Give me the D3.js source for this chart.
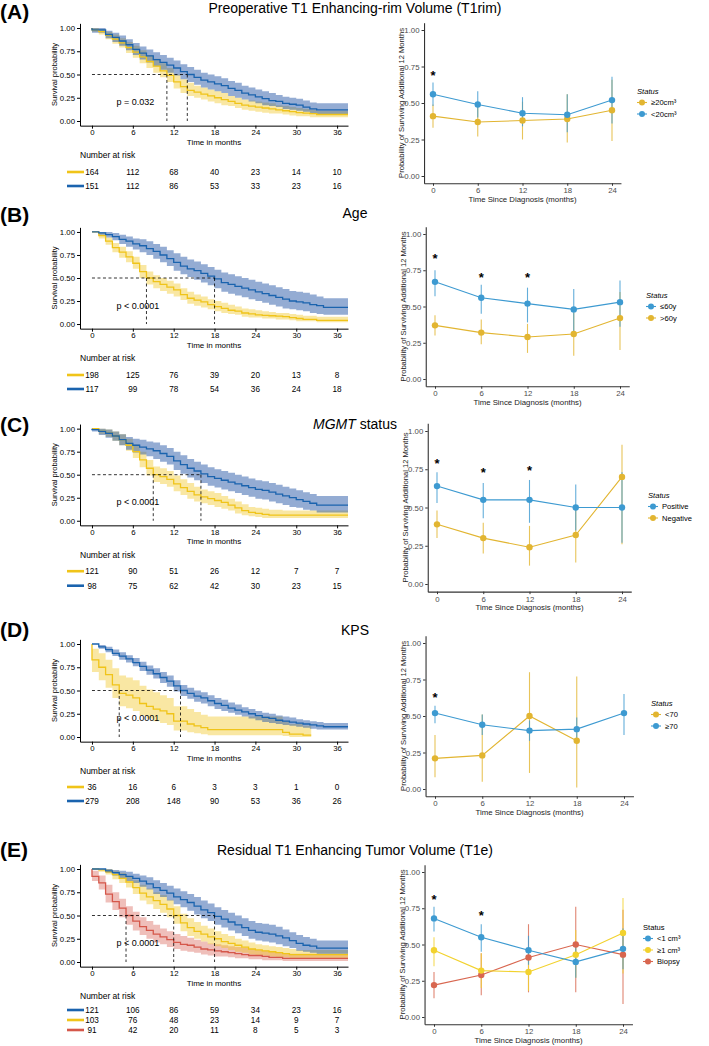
<!DOCTYPE html>
<html>
<head>
<meta charset="utf-8">
<script src="https://cdn.jsdelivr.net/npm/d3@7"></script>
<style>
  body { margin: 0; background: #fff; }
  svg { font-family: "Liberation Sans", Arial, sans-serif; }
</style>
</head>
<body>
<svg id="fig" width="709" height="1046"></svg>
<script>
// ---- shared axes ----
const kmTicks = [0, 6, 12, 18, 24, 30, 36];
const probTimes = [0, 6, 12, 18, 24];

// ---- (A) T1rim : KM, one value per month 0..37 ----
const rimHighS  = [0.98,0.96,0.92,0.88,0.84,0.79,0.74,0.69,0.64,0.59,0.54,0.49,0.42,0.37,0.33,0.31,0.29,0.27,0.25,0.23,0.21,0.19,0.17,0.16,0.15,0.14,0.13,0.12,0.11,0.10,0.09,0.085,0.08,0.07,0.07,0.07,0.07,0.07];
const rimHighLo = [0.96,0.93,0.88,0.83,0.79,0.73,0.68,0.62,0.57,0.52,0.47,0.42,0.35,0.30,0.27,0.25,0.23,0.21,0.19,0.17,0.16,0.14,0.12,0.11,0.10,0.09,0.08,0.08,0.07,0.06,0.05,0.05,0.04,0.04,0.04,0.04,0.04,0.04];
const rimHighHi = [1.00,0.99,0.96,0.93,0.89,0.85,0.81,0.76,0.71,0.67,0.62,0.57,0.50,0.45,0.41,0.38,0.36,0.34,0.32,0.30,0.27,0.25,0.23,0.22,0.21,0.20,0.19,0.17,0.16,0.15,0.14,0.13,0.12,0.11,0.11,0.11,0.11,0.11];
const rimLowS   = [0.98,0.98,0.93,0.90,0.86,0.82,0.77,0.73,0.70,0.66,0.63,0.60,0.57,0.53,0.50,0.47,0.44,0.42,0.40,0.38,0.35,0.33,0.30,0.28,0.26,0.24,0.22,0.21,0.19,0.18,0.17,0.15,0.13,0.12,0.12,0.12,0.12,0.12];
const rimLowLo  = [0.95,0.95,0.89,0.85,0.81,0.76,0.71,0.66,0.63,0.59,0.55,0.52,0.49,0.45,0.42,0.39,0.36,0.34,0.32,0.30,0.27,0.25,0.23,0.21,0.19,0.17,0.16,0.15,0.13,0.12,0.11,0.10,0.08,0.07,0.07,0.07,0.07,0.07];
const rimLowHi  = [1.00,1.00,0.97,0.95,0.92,0.88,0.84,0.80,0.77,0.74,0.71,0.68,0.65,0.61,0.58,0.55,0.52,0.50,0.48,0.46,0.43,0.41,0.38,0.36,0.34,0.32,0.30,0.28,0.26,0.25,0.24,0.22,0.20,0.19,0.19,0.19,0.19,0.19];
const rimMedians = [11, 14];
const rimHighRisk = [164, 112, 68, 40, 23, 14, 10];
const rimLowRisk  = [151, 112, 86, 53, 33, 23, 16];
// (A) conditional survival
const rimHighP   = [0.41, 0.37, 0.38, 0.39, 0.45];
const rimHighPLo = [0.33, 0.27, 0.25, 0.23, 0.24];
const rimHighPHi = [0.49, 0.48, 0.51, 0.56, 0.66];
const rimLowP    = [0.56, 0.49, 0.43, 0.42, 0.52];
const rimLowPLo  = [0.48, 0.40, 0.34, 0.30, 0.36];
const rimLowPHi  = [0.64, 0.58, 0.54, 0.56, 0.68];
const rimStars = [[0, 0.70]];

// ---- (B) Age ----
const ageOldS  = [1.00,0.96,0.90,0.83,0.78,0.73,0.66,0.57,0.50,0.46,0.43,0.40,0.37,0.32,0.28,0.26,0.24,0.21,0.19,0.17,0.15,0.14,0.12,0.11,0.10,0.095,0.09,0.085,0.08,0.07,0.06,0.05,0.05,0.04,0.04,0.04,0.04,0.04];
const ageOldLo = [1.00,0.93,0.86,0.78,0.72,0.67,0.60,0.50,0.43,0.39,0.36,0.33,0.30,0.26,0.22,0.20,0.18,0.16,0.14,0.12,0.11,0.10,0.08,0.07,0.07,0.06,0.06,0.05,0.05,0.04,0.03,0.03,0.03,0.02,0.02,0.02,0.02,0.02];
const ageOldHi = [1.00,0.99,0.94,0.88,0.84,0.79,0.73,0.64,0.57,0.53,0.50,0.47,0.44,0.39,0.35,0.32,0.30,0.27,0.25,0.23,0.21,0.19,0.17,0.16,0.15,0.14,0.13,0.12,0.12,0.11,0.10,0.09,0.09,0.08,0.08,0.08,0.08,0.08];
const ageYoungS  = [1.00,0.99,0.97,0.95,0.92,0.90,0.87,0.85,0.82,0.79,0.75,0.71,0.67,0.63,0.60,0.58,0.55,0.52,0.49,0.45,0.43,0.41,0.39,0.37,0.35,0.33,0.31,0.29,0.27,0.25,0.24,0.23,0.21,0.20,0.18,0.18,0.18,0.18];
const ageYoungLo = [1.00,0.97,0.94,0.91,0.87,0.84,0.81,0.78,0.75,0.71,0.67,0.63,0.58,0.54,0.51,0.48,0.45,0.42,0.39,0.35,0.33,0.31,0.29,0.27,0.25,0.23,0.21,0.19,0.17,0.16,0.15,0.14,0.12,0.11,0.10,0.10,0.10,0.10];
const ageYoungHi = [1.00,1.00,1.00,0.99,0.97,0.95,0.93,0.92,0.90,0.87,0.84,0.80,0.77,0.73,0.70,0.68,0.65,0.62,0.59,0.56,0.54,0.52,0.50,0.48,0.46,0.44,0.42,0.40,0.38,0.36,0.35,0.34,0.32,0.30,0.28,0.28,0.28,0.28];
const ageMedians = [8, 18];
const ageOldRisk   = [198, 125, 76, 39, 20, 13, 8];
const ageYoungRisk = [117, 99, 78, 54, 36, 24, 18];
const ageYoungP   = [0.67, 0.56, 0.52, 0.48, 0.53];
const ageYoungPLo = [0.57, 0.45, 0.39, 0.33, 0.36];
const ageYoungPHi = [0.75, 0.65, 0.63, 0.62, 0.68];
const ageOldP   = [0.37, 0.32, 0.29, 0.31, 0.42];
const ageOldPLo = [0.30, 0.24, 0.18, 0.16, 0.20];
const ageOldPHi = [0.44, 0.41, 0.38, 0.46, 0.60];
const ageStars = [[0, 0.84], [6, 0.71], [12, 0.71]];

// ---- (C) MGMT ----
const mgmtNegS  = [1.00,0.97,0.95,0.92,0.88,0.82,0.75,0.66,0.57,0.50,0.48,0.45,0.40,0.36,0.32,0.28,0.26,0.24,0.22,0.20,0.17,0.14,0.11,0.09,0.08,0.07,0.06,0.06,0.06,0.06,0.06,0.06,0.06,0.06,0.06,0.06,0.06,0.06];
const mgmtNegLo = [1.00,0.94,0.91,0.87,0.82,0.76,0.68,0.58,0.49,0.42,0.40,0.37,0.32,0.28,0.24,0.21,0.19,0.17,0.15,0.13,0.11,0.08,0.06,0.05,0.04,0.03,0.03,0.03,0.03,0.03,0.03,0.03,0.03,0.03,0.03,0.03,0.03,0.03];
const mgmtNegHi = [1.00,1.00,0.99,0.97,0.94,0.89,0.83,0.75,0.66,0.59,0.57,0.54,0.49,0.45,0.41,0.37,0.34,0.32,0.30,0.27,0.24,0.21,0.18,0.15,0.14,0.13,0.12,0.12,0.11,0.11,0.11,0.11,0.11,0.11,0.11,0.11,0.11,0.11];
const mgmtPosS  = [0.99,0.97,0.95,0.92,0.88,0.84,0.82,0.80,0.78,0.76,0.73,0.70,0.65,0.61,0.57,0.54,0.51,0.48,0.46,0.44,0.42,0.40,0.38,0.36,0.34,0.33,0.31,0.29,0.27,0.25,0.23,0.21,0.19,0.17,0.17,0.17,0.17,0.17];
const mgmtPosLo = [0.97,0.93,0.90,0.87,0.82,0.77,0.74,0.72,0.70,0.67,0.64,0.61,0.55,0.51,0.47,0.44,0.41,0.38,0.36,0.34,0.32,0.30,0.28,0.26,0.24,0.23,0.21,0.19,0.17,0.15,0.14,0.12,0.11,0.09,0.09,0.09,0.09,0.09];
const mgmtPosHi = [1.00,1.00,0.99,0.97,0.94,0.91,0.89,0.88,0.86,0.85,0.82,0.79,0.75,0.71,0.67,0.64,0.61,0.58,0.56,0.54,0.52,0.50,0.48,0.46,0.44,0.43,0.41,0.39,0.37,0.35,0.33,0.31,0.29,0.27,0.27,0.27,0.27,0.27];
const mgmtMedians = [9, 16];
const mgmtNegRisk = [121, 90, 51, 26, 12, 7, 7];
const mgmtPosRisk = [98, 75, 62, 42, 30, 23, 15];
const mgmtPosP   = [0.64, 0.55, 0.55, 0.50, 0.50];
const mgmtPosPLo = [0.53, 0.43, 0.40, 0.35, 0.27];
const mgmtPosPHi = [0.73, 0.66, 0.68, 0.65, 0.73];
const mgmtNegP   = [0.39, 0.30, 0.24, 0.32, 0.70];
const mgmtNegPLo = [0.30, 0.20, 0.12, 0.14, 0.26];
const mgmtNegPHi = [0.48, 0.40, 0.38, 0.50, 0.91];
const mgmtStars = [[0, 0.80], [6, 0.74], [12, 0.75]];

// ---- (D) KPS ----
const kpsLowS  = [0.83,0.75,0.67,0.56,0.47,0.45,0.42,0.36,0.33,0.30,0.28,0.25,0.17,0.17,0.14,0.12,0.10,0.08,0.08,0.08,0.08,0.08,0.08,0.08,0.08,0.08,0.08,0.08,0.05,0.03,0.03,0.02,0.02];
const kpsLowLo = [0.70,0.61,0.53,0.42,0.33,0.31,0.28,0.23,0.20,0.17,0.15,0.13,0.07,0.07,0.05,0.04,0.03,0.02,0.02,0.02,0.02,0.02,0.02,0.02,0.02,0.02,0.02,0.02,0.01,0.00,0.00,0.00,0.00];
const kpsLowHi = [0.95,0.90,0.83,0.74,0.66,0.64,0.61,0.55,0.51,0.48,0.45,0.42,0.33,0.33,0.30,0.27,0.24,0.22,0.22,0.22,0.22,0.22,0.22,0.22,0.22,0.22,0.22,0.22,0.17,0.14,0.14,0.12,0.12];
const kpsHighS  = [1.00,0.97,0.94,0.90,0.87,0.84,0.80,0.76,0.72,0.68,0.64,0.60,0.55,0.50,0.47,0.44,0.42,0.39,0.36,0.34,0.31,0.29,0.27,0.25,0.23,0.21,0.20,0.18,0.17,0.16,0.15,0.14,0.13,0.12,0.11,0.11,0.11,0.11];
const kpsHighLo = [1.00,0.95,0.91,0.87,0.83,0.80,0.76,0.71,0.67,0.63,0.58,0.54,0.49,0.44,0.41,0.38,0.36,0.33,0.30,0.28,0.26,0.24,0.22,0.20,0.18,0.16,0.15,0.14,0.13,0.12,0.11,0.10,0.09,0.08,0.08,0.08,0.08,0.08];
const kpsHighHi = [1.00,0.99,0.97,0.94,0.91,0.88,0.85,0.81,0.77,0.74,0.70,0.66,0.61,0.56,0.53,0.50,0.48,0.45,0.42,0.40,0.37,0.35,0.32,0.30,0.28,0.26,0.25,0.23,0.22,0.21,0.19,0.18,0.17,0.16,0.15,0.15,0.15,0.15];
const kpsMedians = [4, 13];
const kpsLowRisk  = [36, 16, 6, 3, 3, 1, 0];
const kpsHighRisk = [279, 208, 148, 90, 53, 36, 26];
const kpsLowP   = [0.21, 0.23, 0.50, 0.33];
const kpsLowPLo = [0.08, 0.05, 0.11, 0.01];
const kpsLowPHi = [0.37, 0.51, 0.80, 0.77];
const kpsHighP   = [0.52, 0.44, 0.40, 0.41, 0.52];
const kpsHighPLo = [0.45, 0.37, 0.33, 0.33, 0.37];
const kpsHighPHi = [0.57, 0.51, 0.47, 0.49, 0.65];
const kpsStars = [[0, 0.64]];

// ---- (E) T1e ----
const t1eSmallS  = [1.00,1.00,0.98,0.96,0.94,0.92,0.90,0.87,0.84,0.80,0.77,0.74,0.70,0.67,0.64,0.60,0.56,0.53,0.49,0.46,0.43,0.40,0.37,0.34,0.32,0.31,0.30,0.28,0.26,0.23,0.20,0.18,0.17,0.15,0.15,0.15,0.15,0.15];
const t1eSmallLo = [1.00,1.00,0.96,0.93,0.90,0.87,0.85,0.81,0.78,0.73,0.70,0.66,0.62,0.59,0.55,0.51,0.47,0.44,0.40,0.37,0.34,0.31,0.28,0.25,0.23,0.22,0.21,0.19,0.17,0.15,0.12,0.11,0.10,0.09,0.09,0.09,0.09,0.09];
const t1eSmallHi = [1.00,1.00,1.00,0.99,0.98,0.97,0.95,0.93,0.91,0.88,0.85,0.82,0.79,0.76,0.73,0.70,0.66,0.63,0.59,0.56,0.53,0.50,0.47,0.44,0.42,0.41,0.40,0.38,0.35,0.32,0.29,0.27,0.25,0.23,0.23,0.23,0.23,0.23];
const t1eLargeS  = [1.00,0.99,0.97,0.94,0.90,0.86,0.80,0.74,0.70,0.66,0.62,0.57,0.50,0.42,0.37,0.33,0.30,0.27,0.25,0.22,0.20,0.18,0.16,0.14,0.13,0.12,0.11,0.10,0.09,0.08,0.08,0.08,0.08,0.08,0.08,0.08,0.08,0.08];
const t1eLargeLo = [1.00,0.97,0.94,0.89,0.85,0.80,0.73,0.66,0.62,0.57,0.53,0.48,0.41,0.33,0.28,0.25,0.22,0.19,0.17,0.15,0.13,0.11,0.10,0.08,0.07,0.07,0.06,0.05,0.05,0.04,0.04,0.04,0.04,0.04,0.04,0.04,0.04,0.04];
const t1eLargeHi = [1.00,1.00,1.00,0.98,0.96,0.92,0.88,0.83,0.79,0.75,0.72,0.67,0.60,0.52,0.47,0.43,0.39,0.36,0.33,0.30,0.28,0.25,0.23,0.21,0.19,0.18,0.17,0.16,0.15,0.14,0.13,0.13,0.13,0.13,0.13,0.13,0.13,0.13];
const biopsyS  = [0.92,0.85,0.73,0.65,0.58,0.50,0.44,0.38,0.34,0.30,0.27,0.24,0.21,0.19,0.18,0.16,0.14,0.13,0.12,0.11,0.10,0.09,0.08,0.07,0.07,0.06,0.05,0.05,0.04,0.04,0.04,0.04,0.04,0.04,0.04,0.04,0.04,0.04];
const biopsyLo = [0.87,0.78,0.64,0.56,0.48,0.40,0.34,0.29,0.25,0.21,0.19,0.16,0.14,0.12,0.11,0.10,0.08,0.07,0.06,0.06,0.05,0.04,0.04,0.03,0.03,0.02,0.02,0.02,0.01,0.01,0.01,0.01,0.01,0.01,0.01,0.01,0.01,0.01];
const biopsyHi = [0.98,0.93,0.83,0.75,0.68,0.60,0.54,0.48,0.44,0.40,0.36,0.33,0.30,0.28,0.26,0.24,0.22,0.20,0.19,0.18,0.17,0.16,0.15,0.14,0.13,0.12,0.11,0.10,0.09,0.09,0.09,0.09,0.09,0.09,0.09,0.09,0.09,0.09];
const t1eMedians = [5, 12, 18];
const t1eSmallRisk = [121, 106, 86, 59, 34, 23, 16];
const t1eLargeRisk = [103, 76, 48, 23, 14, 9, 7];
const biopsyRisk   = [91, 42, 20, 11, 8, 5, 3];
const t1eSmallP   = [0.68, 0.55, 0.46, 0.38, 0.47];
const t1eSmallPLo = [0.59, 0.45, 0.36, 0.27, 0.33];
const t1eSmallPHi = [0.76, 0.64, 0.56, 0.50, 0.61];
const t1eLargeP   = [0.46, 0.32, 0.31, 0.43, 0.58];
const t1eLargePLo = [0.35, 0.20, 0.18, 0.27, 0.30];
const t1eLargePHi = [0.55, 0.44, 0.45, 0.60, 0.82];
const biopsyP   = [0.22, 0.29, 0.41, 0.50, 0.43];
const biopsyPLo = [0.13, 0.15, 0.17, 0.17, 0.09];
const biopsyPHi = [0.31, 0.44, 0.64, 0.76, 0.74];
const t1eStars = [[0, 0.82], [6, 0.71]];

// colours
const km = { blue: '#1a63ae', yellow: '#f0c419', red: '#d5574a' };
const kmBand = { blue: ['#2a5aa8', 0.5], yellow: ['#f0c419', 0.4], red: ['#d5574a', 0.38] };
const pr = { blue: '#3d9ad1', yellow: '#e2b531', yellowE: '#f2d22e', red: '#d8664f' };

const svg = d3.select('#fig');
const FONT = '"Liberation Sans", Arial, sans-serif';

function kmSeries(s, lo, hi, end) {
  const pts = [{ t: 0, s: 1, lo: 1, hi: 1 }];
  s.forEach((v, i) => pts.push({ t: i, s: v, lo: lo[i], hi: hi[i] }));
  const last = pts[pts.length - 1];
  pts.push({ t: end, s: last.s, lo: last.lo, hi: last.hi });
  return pts;
}

function drawKM(p) {
  const x = d3.scaleLinear().domain([-1.76, 37.6]).range([80, 348]);
  const y = d3.scaleLinear().domain([-0.05, 1.05]).range([p.y0 + 4.65, p.y1 - 4.65]);
  const g = svg.append('g');

  const area = d3.area().curve(d3.curveStepAfter)
    .x(d => x(d.t)).y0(d => y(d.lo)).y1(d => y(d.hi));
  const line = d3.line().curve(d3.curveStepAfter)
    .x(d => x(d.t)).y(d => y(d.s));

  p.curves.forEach(c => {
    const band = kmBand[c.key];
    g.append('path').datum(kmSeries(c.s, c.lo, c.hi, c.end || 37.6))
      .attr('d', area).attr('fill', band[0]).attr('fill-opacity', band[1]);
  });
  p.curves.forEach(c => {
    g.append('path').datum(kmSeries(c.s, c.lo, c.hi, c.end || 37.6))
      .attr('d', line).attr('fill', 'none').attr('stroke', km[c.key]).attr('stroke-width', 1.3);
  });

  // median lines
  const mMax = d3.max(p.medians);
  g.append('line').attr('x1', x(0)).attr('x2', x(mMax)).attr('y1', y(0.5)).attr('y2', y(0.5))
    .attr('stroke', '#000').attr('stroke-width', 0.8).attr('stroke-dasharray', '3,2.5');
  p.medians.forEach(m => {
    g.append('line').attr('x1', x(m)).attr('x2', x(m)).attr('y1', y(0.5)).attr('y2', y(0))
      .attr('stroke', '#000').attr('stroke-width', 0.8).attr('stroke-dasharray', '3,2.5');
  });

  g.append('text').attr('x', x(3.6)).attr('y', y(0.2) + 3)
    .attr('font-size', 9).text(p.pval);

  // axes
  const ax = g.append('g').attr('transform', `translate(0,${y(-0.05)})`)
    .call(d3.axisBottom(x).tickValues(kmTicks).tickSize(3).tickSizeOuter(0).tickPadding(1));
  const ay = g.append('g').attr('transform', `translate(${x(-1.76)},0)`)
    .call(d3.axisLeft(y).tickValues([0, 0.25, 0.5, 0.75, 1]).tickFormat(d3.format('.2f')).tickSize(3).tickSizeOuter(0).tickPadding(2));
  [ax, ay].forEach(a => {
    a.select('.domain').attr('stroke', '#000').attr('stroke-width', 1);
    a.selectAll('.tick line').attr('stroke', '#000');
    a.selectAll('text').attr('font-size', 7.8).attr('fill', '#000').attr('font-family', FONT);
  });
  g.append('text').attr('x', 214).attr('y', y(-0.05) + 19).attr('text-anchor', 'middle')
    .attr('font-size', 8).text('Time in months');
  g.append('text').attr('transform', `translate(57,${(y(0) + y(1)) / 2}) rotate(-90)`)
    .attr('text-anchor', 'middle').attr('font-size', 7.5).text('Survival probability');

  // number at risk
  g.append('text').attr('x', 80).attr('y', p.y0 + 37).attr('font-size', 8.5).text('Number at risk');
  p.risk.forEach((r, i) => {
    const ry = p.y0 + p.riskRow0 + i * p.riskStep;
    g.append('line').attr('x1', 67).attr('x2', 84).attr('y1', ry).attr('y2', ry)
      .attr('stroke', km[r.key]).attr('stroke-width', 2.6);
    g.selectAll(null).data(r.n).join('text')
      .attr('x', (d, j) => x(kmTicks[j])).attr('y', ry + 3)
      .attr('text-anchor', 'middle').attr('font-size', 8.2).text(d => d);
  });
}

function drawProb(p) {
  const x = d3.scaleLinear().domain([0, 24]).range([p.x0, p.x24]);
  const y = d3.scaleLinear().domain([0, 1]).range([p.yb, p.yt]);
  const g = svg.append('g');
  const xe = d => x(d);

  p.series.forEach(s => {
    const times = probTimes.slice(0, s.est.length);
    g.selectAll(null).data(times).join('line')
      .attr('x1', xe).attr('x2', xe)
      .attr('y1', (d, i) => y(s.lo[i])).attr('y2', (d, i) => y(s.hi[i]))
      .attr('stroke', s.color).attr('stroke-width', 1.1).attr('stroke-opacity', 0.8);
  });
  p.series.forEach(s => {
    const times = probTimes.slice(0, s.est.length);
    g.append('path').datum(times.map((t, i) => [t, s.est[i]]))
      .attr('d', d3.line().x(d => x(d[0])).y(d => y(d[1])))
      .attr('fill', 'none').attr('stroke', s.color).attr('stroke-width', 1.1);
  });
  p.series.forEach(s => {
    const times = probTimes.slice(0, s.est.length);
    g.selectAll(null).data(times).join('circle')
      .attr('cx', xe).attr('cy', (d, i) => y(s.est[i])).attr('r', 3.2).attr('fill', s.color);
  });

  g.selectAll(null).data(p.stars).join('text')
    .attr('x', d => x(d[0])).attr('y', d => y(d[1]) + 6)
    .attr('text-anchor', 'middle').attr('font-size', 13).attr('font-weight', 'bold').text('*');

  const xAx = d3.scaleLinear().domain([-1.2, 25.2]).range([x(-1.2), x(25.2)]);
  const yAx = d3.scaleLinear().domain([-0.05, 1.05]).range([y(-0.05), y(1.05)]);
  const ax = g.append('g').attr('transform', `translate(0,${y(-0.05)})`)
    .call(d3.axisBottom(xAx).tickValues(probTimes).tickSize(2.5).tickSizeOuter(0).tickPadding(2));
  const ay = g.append('g').attr('transform', `translate(${x(-1.2)},0)`)
    .call(d3.axisLeft(yAx).tickValues([0, 0.25, 0.5, 0.75, 1]).tickFormat(d3.format('.2f')).tickSize(2.5).tickSizeOuter(0).tickPadding(2));
  [ax, ay].forEach(a => {
    a.select('.domain').attr('stroke', '#333').attr('stroke-width', 1.1);
    a.selectAll('.tick line').attr('stroke', '#333');
    a.selectAll('text').attr('font-size', 7.8).attr('fill', '#4d4d4d').attr('font-family', FONT);
  });
  g.append('text').attr('x', (x(-1.2) + x(25.2)) / 2).attr('y', y(-0.05) + 18.5)
    .attr('text-anchor', 'middle').attr('font-size', 7.8).attr('fill', '#222').text('Time Since Diagnosis (months)');
  g.append('text').attr('transform', `translate(${x(-1.2) - 20},${(y(-0.05) + y(1.05)) / 2}) rotate(-90)`)
    .attr('text-anchor', 'middle').attr('font-size', 7.6).attr('fill', '#222')
    .text('Probability of Surviving Additional 12 Months');

  // legend
  const lg = g.append('g');
  lg.append('text').attr('x', p.legX).attr('y', p.legY + 3).attr('font-size', 7.6)
    .attr('font-style', p.legItalic ? 'italic' : 'normal').text('Status');
  p.legend.forEach((L, i) => {
    const ly = p.legY + 11.5 * (i + 1);
    const kx = p.legX + 5;
    lg.append('line').attr('x1', kx - 5).attr('x2', kx + 5).attr('y1', ly).attr('y2', ly)
      .attr('stroke', L.color).attr('stroke-width', 1.1);
    lg.append('circle').attr('cx', kx).attr('cy', ly).attr('r', 3).attr('fill', L.color);
    lg.append('text').attr('x', kx + 9).attr('y', ly + 2.7).attr('font-size', 7.6).text(L.label);
  });
}

function panelHead(letter, labY, title, titY) {
  svg.append('text').attr('x', 0).attr('y', labY).attr('font-size', 21).attr('font-weight', 'bold').text(`(${letter})`);
  const t = svg.append('text').attr('x', 355).attr('y', titY).attr('text-anchor', 'middle').attr('font-size', 14);
  title.forEach(part => t.append('tspan').attr('font-style', part[1] ? 'italic' : 'normal').text(part[0]));
}

// ---------- (A) ----------
panelHead('A', 18.5, [['Preoperative T1 Enhancing-rim Volume (T1rim)', false]], 13);
drawKM({
  y1: 28, y0: 121, medians: rimMedians, pval: 'p = 0.032',
  curves: [
    { s: rimHighS, lo: rimHighLo, hi: rimHighHi, key: 'yellow' },
    { s: rimLowS, lo: rimLowLo, hi: rimLowHi, key: 'blue' }
  ],
  riskRow0: 51, riskStep: 14,
  risk: [{ n: rimHighRisk, key: 'yellow' }, { n: rimLowRisk, key: 'blue' }]
});
drawProb({
  x0: 433, x24: 612, yt: 30, yb: 176, stars: rimStars,
  series: [
    { est: rimHighP, lo: rimHighPLo, hi: rimHighPHi, color: pr.yellow },
    { est: rimLowP, lo: rimLowPLo, hi: rimLowPHi, color: pr.blue }
  ],
  legX: 637, legY: 91, legItalic: true,
  legend: [{ label: '≥20cm³', color: pr.yellow }, { label: '<20cm³', color: pr.blue }]
});

// ---------- (B) ----------
panelHead('B', 222, [['Age', false]], 218);
drawKM({
  y1: 232, y0: 324, medians: ageMedians, pval: 'p < 0.0001',
  curves: [
    { s: ageOldS, lo: ageOldLo, hi: ageOldHi, key: 'yellow' },
    { s: ageYoungS, lo: ageYoungLo, hi: ageYoungHi, key: 'blue' }
  ],
  riskRow0: 51, riskStep: 14,
  risk: [{ n: ageOldRisk, key: 'yellow' }, { n: ageYoungRisk, key: 'blue' }]
});
drawProb({
  x0: 435, x24: 620, yt: 234, yb: 379, stars: ageStars,
  series: [
    { est: ageOldP, lo: ageOldPLo, hi: ageOldPHi, color: pr.yellow },
    { est: ageYoungP, lo: ageYoungPLo, hi: ageYoungPHi, color: pr.blue }
  ],
  legX: 646, legY: 295, legItalic: true,
  legend: [{ label: '≤60y', color: pr.blue }, { label: '>60y', color: pr.yellow }]
});

// ---------- (C) ----------
panelHead('C', 432, [['MGMT', true], [' status', false]], 429);
drawKM({
  y1: 428.7, y0: 520.7, medians: mgmtMedians, pval: 'p < 0.0001',
  curves: [
    { s: mgmtNegS, lo: mgmtNegLo, hi: mgmtNegHi, key: 'yellow' },
    { s: mgmtPosS, lo: mgmtPosLo, hi: mgmtPosHi, key: 'blue' }
  ],
  riskRow0: 50.5, riskStep: 14.5,
  risk: [{ n: mgmtNegRisk, key: 'yellow' }, { n: mgmtPosRisk, key: 'blue' }]
});
drawProb({
  x0: 437, x24: 622, yt: 431, yb: 584, stars: mgmtStars,
  series: [
    { est: mgmtNegP, lo: mgmtNegPLo, hi: mgmtNegPHi, color: pr.yellow },
    { est: mgmtPosP, lo: mgmtPosPLo, hi: mgmtPosPHi, color: pr.blue }
  ],
  legX: 648, legY: 495, legItalic: true,
  legend: [{ label: 'Positive', color: pr.blue }, { label: 'Negative', color: pr.yellow }]
});

// ---------- (D) ----------
panelHead('D', 637, [['KPS', false]], 635);
drawKM({
  y1: 644, y0: 737, medians: kpsMedians, pval: 'p < 0.0001',
  curves: [
    { s: kpsLowS, lo: kpsLowLo, hi: kpsLowHi, key: 'yellow', end: 32.2 },
    { s: kpsHighS, lo: kpsHighLo, hi: kpsHighHi, key: 'blue' }
  ],
  riskRow0: 50, riskStep: 14,
  risk: [{ n: kpsLowRisk, key: 'yellow' }, { n: kpsHighRisk, key: 'blue' }]
});
drawProb({
  x0: 435, x24: 624, yt: 643, yb: 789, stars: kpsStars,
  series: [
    { est: kpsLowP, lo: kpsLowPLo, hi: kpsLowPHi, color: pr.yellow },
    { est: kpsHighP, lo: kpsHighPLo, hi: kpsHighPHi, color: pr.blue }
  ],
  legX: 651, legY: 703, legItalic: true,
  legend: [{ label: '<70', color: pr.yellow }, { label: '≥70', color: pr.blue }]
});

// ---------- (E) ----------
panelHead('E', 857, [['Residual T1 Enhancing Tumor Volume (T1e)', false]], 855);
drawKM({
  y1: 869, y0: 962, medians: t1eMedians, pval: 'p < 0.0001',
  curves: [
    { s: biopsyS, lo: biopsyLo, hi: biopsyHi, key: 'red' },
    { s: t1eLargeS, lo: t1eLargeLo, hi: t1eLargeHi, key: 'yellow' },
    { s: t1eSmallS, lo: t1eSmallLo, hi: t1eSmallHi, key: 'blue' }
  ],
  riskRow0: 48, riskStep: 10,
  risk: [{ n: t1eSmallRisk, key: 'blue' }, { n: t1eLargeRisk, key: 'yellow' }, { n: biopsyRisk, key: 'red' }]
});
drawProb({
  x0: 434, x24: 623, yt: 872, yb: 1017, stars: t1eStars,
  series: [
    { est: biopsyP, lo: biopsyPLo, hi: biopsyPHi, color: pr.red },
    { est: t1eLargeP, lo: t1eLargePLo, hi: t1eLargePHi, color: pr.yellowE },
    { est: t1eSmallP, lo: t1eSmallPLo, hi: t1eSmallPHi, color: pr.blue }
  ],
  legX: 643, legY: 927, legItalic: false,
  legend: [{ label: '<1 cm³', color: pr.blue }, { label: '≥1 cm³', color: pr.yellowE }, { label: 'Biopsy', color: pr.red }]
});
</script>
</body>
</html>
